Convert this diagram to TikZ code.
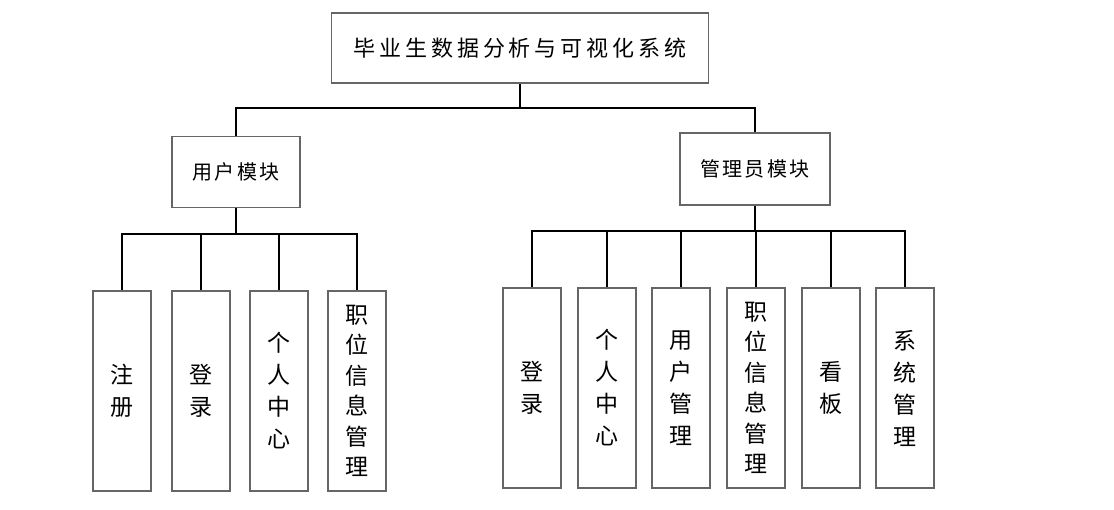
\documentclass[tikz,border=0pt]{standalone}
\usepackage{fontspec}
\newfontfamily\cjk{Noto Sans CJK SC}
\newfontfamily\cjkwide[LetterSpace=18]{Noto Sans CJK SC}
\newfontfamily\cjkmid[LetterSpace=12]{Noto Sans CJK SC}
\begin{document}
\begin{tikzpicture}
  [x=1pt,y=-1pt,
   box/.style={draw=black!60,line width=1.6pt,fill=white,inner sep=0pt},
   leaf/.style={box,minimum width=58pt,minimum height=200pt,align=center,
     font=\cjk\fontsize{23}{32}\selectfont},
   link/.style={line width=1.8pt}]
  \useasboundingbox (0,0) rectangle (1114,509);
  \node[box,minimum width=377pt,minimum height=70pt,
    font=\cjkwide\fontsize{22}{26}\selectfont] (sys) at (520,48) {毕业生数据分析与可视化系统};
  \node[box,minimum width=128pt,minimum height=71pt,
    font=\cjkmid\fontsize{20}{24}\selectfont] (user) at (236,172) {用户模块};
  \node[box,minimum width=150pt,minimum height=72pt,
    font=\cjkmid\fontsize{20}{24}\selectfont] (admin) at (755,169) {管理员模块};
  % user module
  \node[leaf] (reg) at (122,391) {注\\册};
  \node[leaf] (ulogin) at (201,391) {登\\录};
  \node[leaf] (uhome) at (279,391) {个\\人\\中\\心};
  \node[leaf,font=\cjk\fontsize{23}{30.5}\selectfont] (ujob) at (357,391) {职\\位\\信\\息\\管\\理};
  % admin module
  \node[leaf] (alogin) at (532,388) {登\\录};
  \node[leaf] (ahome) at (607,388) {个\\人\\中\\心};
  \node[leaf] (auser) at (681,388) {用\\户\\管\\理};
  \node[leaf,font=\cjk\fontsize{23}{30.5}\selectfont] (ajob) at (756,388) {职\\位\\信\\息\\管\\理};
  \node[leaf] (board) at (831,388) {看\\板};
  \node[leaf] (asys) at (905,388) {系\\统\\管\\理};
  \coordinate (bus) at (520,108);
  \coordinate (ubus) at (236,234);
  \coordinate (abus) at (755,231);
  \draw[link] (sys) -- (bus);
  \foreach \to in {user,admin}
    \draw[link] (bus) -| (\to);
  \draw[link] (user) -- (ubus);
  \foreach \to in {reg,ulogin,uhome,ujob}
    \draw[link] (ubus) -| (\to);
  \draw[link] (admin) -- (abus);
  \foreach \to in {alogin,ahome,auser,ajob,board,asys}
    \draw[link] (abus) -| (\to);
\end{tikzpicture}
\end{document}
